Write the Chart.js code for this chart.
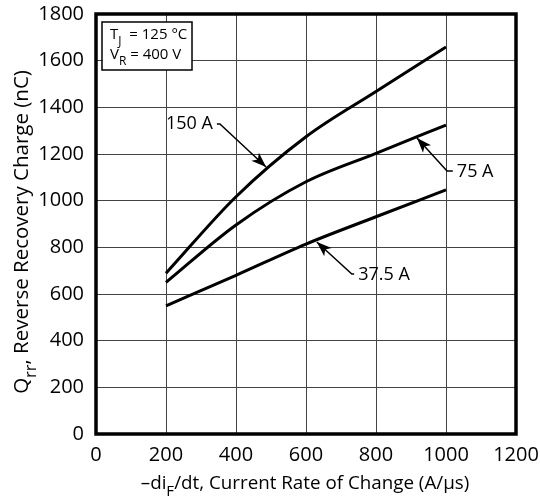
<!DOCTYPE html>
<html>
<head>
<meta charset="utf-8">
<script src="https://cdn.jsdelivr.net/npm/chart.js"></script>
<style>
  html, body { margin: 0; padding: 0; background: #fff; }
  #wrap { width: 540px; height: 502px; }
</style>
</head>
<body>
<div id="wrap"><canvas id="qrr" width="540" height="502"></canvas></div>
<script>
// values
const rates = [200, 400, 600, 800, 1000];          // -diF/dt (A/us)
const q150 = [689, 1017, 1274, 1468, 1659];        // nC, IF = 150 A
const q75 = [650, 896, 1081, 1203, 1324];          // nC, IF = 75 A
const q375 = [549, 680, 814, 931, 1046];           // nC, IF = 37.5 A
const xTicks = [0, 200, 400, 600, 800, 1000, 1200];
const yTicks = [0, 200, 400, 600, 800, 1000, 1200, 1400, 1600, 1800];

// callouts: label, text anchor, leader corner, arrow tip (data units)
const callouts = [
  { text: "150 A", align: "right", at: [334, 1329], corner: [354, 1329], tip: [486, 1144] },
  { text: "75 A", align: "left", at: [1031, 1125], corner: [1003, 1127], tip: [917, 1269] },
  { text: "37.5 A", align: "left", at: [749, 683], corner: [731, 686], tip: [631, 823] }
];

const FONT = "'Open Sans', sans-serif";

function line(label, data) {
  return {
    label: label,
    data: rates.map((r, i) => ({ x: r, y: data[i] })),
    borderColor: "#000",
    borderWidth: 3,
    pointRadius: 0,
    fill: false,
    cubicInterpolationMode: "monotone"
  };
}

// draws text with a lowered subscript part, returns end x
function subText(ctx, parts, x, y, size) {
  parts.forEach(p => {
    const fs = p.sub ? size * 0.8 : size;
    ctx.font = fs + "px " + FONT;
    ctx.fillText(p.t, x, y + (p.sub ? size * 0.38 : 0));
    x += ctx.measureText(p.t).width;
  });
  return x;
}

function partsWidth(ctx, parts, size) {
  let w = 0;
  parts.forEach(p => {
    ctx.font = (p.sub ? size * 0.8 : size) + "px " + FONT;
    w += ctx.measureText(p.t).width;
  });
  return w;
}

const decor = {
  id: "decor",
  afterDatasetsDraw(chart) {
    const { ctx, chartArea: a, scales } = chart;
    const px = v => scales.x.getPixelForValue(v);
    const py = v => scales.y.getPixelForValue(v);
    ctx.save();

    // frame
    ctx.strokeStyle = "#000";
    ctx.lineWidth = 3.5;
    ctx.strokeRect(a.left, a.top, a.right - a.left, a.bottom - a.top);

    // conditions box
    ctx.lineWidth = 1.5;
    ctx.fillStyle = "#fff";
    ctx.fillRect(a.left + 6, a.top + 8, 90, 48);
    ctx.strokeRect(a.left + 6, a.top + 8, 90, 48);
    ctx.fillStyle = "#000";
    ctx.textBaseline = "alphabetic";
    ctx.textAlign = "left";
    subText(ctx, [{ t: "T" }, { t: "J", sub: true }, { t: "  = 125 °C" }], a.left + 14, a.top + 25, 15);
    subText(ctx, [{ t: "V" }, { t: "R", sub: true }, { t: " = 400 V" }], a.left + 14, a.top + 45, 15);

    // callout arrows
    callouts.forEach(c => {
      const tx = px(c.at[0]), ty = py(c.at[1]);
      const cx = px(c.corner[0]), cy = py(c.corner[1]);
      const ex = px(c.tip[0]), ey = py(c.tip[1]);
      ctx.lineWidth = 1.5;
      ctx.beginPath();
      ctx.moveTo(c.align === "right" ? tx + 4 : tx - 4, cy);
      ctx.lineTo(cx, cy);
      ctx.lineTo(ex, ey);
      ctx.stroke();
      const ang = Math.atan2(ey - cy, ex - cx);
      const L = 15, W = 5.5;
      ctx.beginPath();
      ctx.moveTo(ex, ey);
      ctx.lineTo(ex - L * Math.cos(ang) + W * Math.sin(ang), ey - L * Math.sin(ang) - W * Math.cos(ang));
      ctx.lineTo(ex - L * Math.cos(ang) * 0.75, ey - L * Math.sin(ang) * 0.75);
      ctx.lineTo(ex - L * Math.cos(ang) - W * Math.sin(ang), ey - L * Math.sin(ang) + W * Math.cos(ang));
      ctx.closePath();
      ctx.fill();
      ctx.font = "18px " + FONT;
      ctx.textAlign = c.align;
      ctx.textBaseline = "middle";
      ctx.fillText(c.text, tx, ty);
    });

    // axis titles with subscripts
    ctx.textAlign = "left";
    ctx.textBaseline = "alphabetic";
    const xParts = [{ t: "\u2013di" }, { t: "F", sub: true }, { t: "/dt, Current Rate of Change (A/\u00b5s)" }];
    const xw = partsWidth(ctx, xParts, 18.8);
    subText(ctx, xParts, 305 - xw / 2, 489, 18.8);

    const yParts = [{ t: "Q" }, { t: "rr", sub: true }, { t: ", Reverse Recovery Charge (nC)" }];
    const yw = partsWidth(ctx, yParts, 20.5);
    ctx.translate(28, 232);
    ctx.rotate(-Math.PI / 2);
    subText(ctx, yParts, -yw / 2, 0, 20.5);
    ctx.restore();
  }
};

const tickFont = { family: FONT, size: 20 };

new Chart(document.getElementById("qrr"), {
  type: "line",
  data: { datasets: [line("150 A", q150), line("75 A", q75), line("37.5 A", q375)] },
  options: {
    responsive: false,
    animation: false,
    layout: { padding: { top: 14, right: 24, left: 0, bottom: 0 } },
    plugins: { legend: { display: false }, tooltip: { enabled: false } },
    scales: {
      x: {
        type: "linear",
        min: 0, max: 1200,
        afterBuildTicks: s => { s.ticks = xTicks.map(v => ({ value: v })); },
        afterFit: s => { s.height = 68; s.paddingLeft = 0; s.paddingRight = 0; },
        grid: { color: "#444", lineWidth: 1, drawTicks: false },
        border: { display: false },
        ticks: { color: "#000", padding: 9, font: tickFont, callback: v => String(v) }
      },
      y: {
        type: "linear",
        min: 0, max: 1800,
        afterBuildTicks: s => { s.ticks = yTicks.map(v => ({ value: v })); },
        afterFit: s => { s.width = 96; s.paddingTop = 0; s.paddingBottom = 0; },
        grid: { color: "#444", lineWidth: 1, drawTicks: false },
        border: { display: false },
        ticks: { color: "#000", padding: 12, font: tickFont, callback: v => String(v) }
      }
    }
  },
  plugins: [decor]
});
</script>
</body>
</html>
